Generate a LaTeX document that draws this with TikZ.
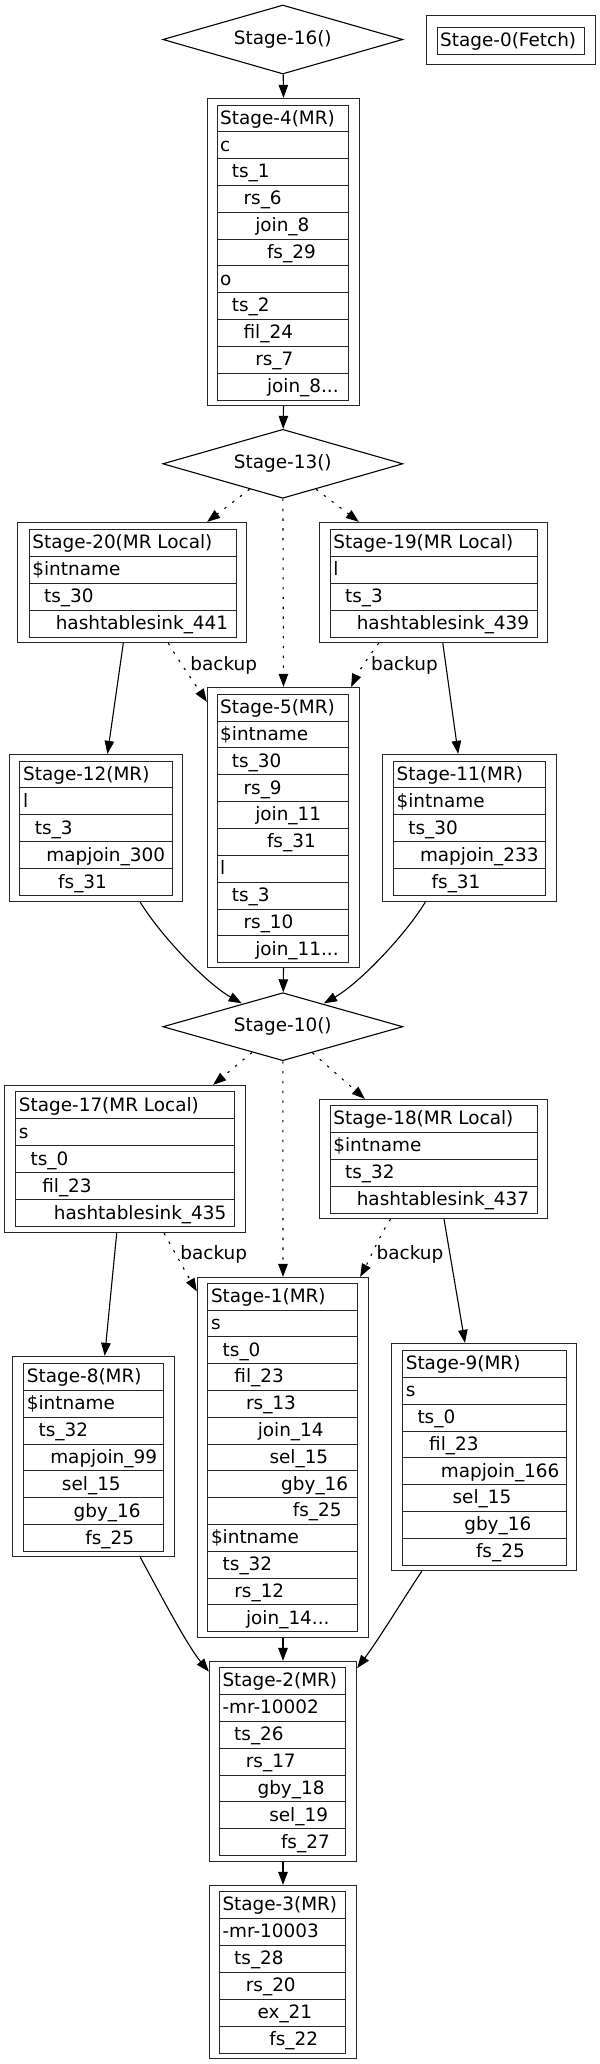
\documentclass[tikz,border=0pt]{standalone}
\usepackage{fontspec}
\setmainfont{DejaVu Sans}
\usetikzlibrary{shapes.geometric,arrows.meta,calc}
\tikzset{
  outerbox/.style={draw=black!85, line width=1.3bp, rectangle, inner sep=0pt},
  innerline/.style={draw=black!85, line width=1.3bp},
  rowtext/.style={anchor=base west, inner sep=0pt, font=\fontsize{18.49}{22}\selectfont},
  decision/.style={draw, diamond, shape aspect=3.5, line width=1.1bp, inner sep=0pt, minimum width=240bp, minimum height=69bp, font=\fontsize{18.49}{22}\selectfont},
  edge/.style={line width=1.1bp, -{Triangle[length=13bp,width=9.5bp]}},
  dotedge/.style={edge, dash pattern=on 2.4bp off 7.4bp},
  lbl/.style={anchor=base, inner sep=0pt, font=\fontsize{18.49}{22}\selectfont},
}
\newcommand{\stagebox}[5]{%
  \pgfmathsetmacro{\bxa}{floor(#2)+0.5}\pgfmathsetmacro{\bya}{floor(#3)+0.5}%
  \pgfmathsetmacro{\bxb}{floor(#4)+0.5}\pgfmathsetmacro{\byb}{floor(#5)+0.5}%
  \node[outerbox, minimum width={(\bxb-\bxa)*1bp}, minimum height={(\byb-\bya)*1bp}] (#1) at ({(\bxa+\bxb)/2},{(\bya+\byb)/2}) {};}
\newcommand{\stagerows}[7]{%
  \pgfmathsetmacro{\rxa}{floor(#2)+0.5}\pgfmathsetmacro{\rya}{floor(#3)+0.5}%
  \pgfmathsetmacro{\rxb}{floor(#4)+0.5}\pgfmathsetmacro{\ryb}{floor(#5)+0.5}%
  \draw[innerline] (\rxa,\rya) rectangle (\rxb,\ryb);
  \pgfmathsetmacro{\rowh}{(#5-#3)/#6}
  \foreach \lv/\tx [count=\i from 0] in {#7}{
    \ifnum\i>0 \pgfmathsetmacro{\ly}{floor(#3+\i*\rowh)+0.5}\draw[innerline] (\rxa,\ly) -- (\rxb,\ly); \fi
    \node[rowtext] (#1-r\i) at ({#2+3+11.7*\lv},{#3+\i*\rowh+\rowh/2+5.8}) {\tx};
  }
}
\begin{document}
\begin{tikzpicture}[x=1bp,y=-1bp]
\fill[white] (0,0) rectangle (600,2064);
\useasboundingbox (0,0) rectangle (600,2064);

% diamonds
\node[decision] (s16) at (282.8,39.5) {Stage-16()};
\node[decision] (s13) at (282.8,463.8) {Stage-13()};
\node[decision, minimum height=68bp] (s10) at (282.8,1026.7) {Stage-10()};

% Stage-0
\stagebox{s0}{426}{15}{595}{64}
\stagerows{s0}{437}{27}{584}{54}{1}{0/Stage-0(Fetch)}

% Stage-4
\stagebox{s4}{207}{98}{359}{405}
\stagerows{s4}{217}{105}{348}{400}{11}{0/Stage-4(MR), 0/c, 1/ts\_1, 2/rs\_6, 3/join\_8, 4/fs\_29, 0/o, 1/ts\_2, 2/fil\_24, 3/rs\_7, 4/join\_8{.}{.}{.}}

% Stage-20
\stagebox{s20}{17.5}{522.7}{246.5}{642.5}
\stagerows{s20}{29.2}{529}{236}{637}{4}{0/Stage-20(MR Local), 0/\$intname, 1/ts\_30, 2/hashtablesink\_441}

% Stage-19
\stagebox{s19}{319.5}{522.7}{547.5}{642.5}
\stagerows{s19}{330.2}{529}{537.6}{637}{4}{0/Stage-19(MR Local), 0/l, 1/ts\_3, 2/hashtablesink\_439}

% Stage-5
\stagebox{s5}{207}{687.5}{359}{967.7}
\stagerows{s5}{217}{694.3}{348.2}{962.7}{10}{0/Stage-5(MR), 0/\$intname, 1/ts\_30, 2/rs\_9, 3/join\_11, 4/fs\_31, 0/l, 1/ts\_3, 2/rs\_10, 3/join\_11{.}{.}{.}}

% Stage-12
\stagebox{s12}{9.2}{754.5}{182.5}{901}
\stagerows{s12}{19.9}{761}{172.2}{895.7}{5}{0/Stage-12(MR), 0/l, 1/ts\_3, 2/mapjoin\_300, 3/fs\_31}

% Stage-11
\stagebox{s11}{382.7}{754.5}{556}{901}
\stagerows{s11}{393.4}{761}{545.3}{895.7}{5}{0/Stage-11(MR), 0/\$intname, 1/ts\_30, 2/mapjoin\_233, 3/fs\_31}

% Stage-17
\stagebox{s17}{4.6}{1085}{245.3}{1232.3}
\stagerows{s17}{15.7}{1091.7}{234.6}{1226.7}{5}{0/Stage-17(MR Local), 0/s, 1/ts\_0, 2/fil\_23, 3/hashtablesink\_435}

% Stage-18
\stagebox{s18}{319.5}{1099}{547.2}{1218.3}
\stagerows{s18}{330.2}{1105}{537.6}{1213.3}{4}{0/Stage-18(MR Local), 0/\$intname, 1/ts\_32, 2/hashtablesink\_437}

% Stage-1
\stagebox{s1}{197}{1277.3}{368.4}{1637.3}
\stagerows{s1}{207.8}{1283.3}{357.6}{1631.7}{13}{0/Stage-1(MR), 0/s, 1/ts\_0, 2/fil\_23, 3/rs\_13, 4/join\_14, 5/sel\_15, 6/gby\_16, 7/fs\_25, 0/\$intname, 1/ts\_32, 2/rs\_12, 3/join\_14{.}{.}{.}}

% Stage-8
\stagebox{s8}{12.6}{1356.7}{174.1}{1556.7}
\stagerows{s8}{23.7}{1363.3}{163.8}{1551.7}{7}{0/Stage-8(MR), 0/\$intname, 1/ts\_32, 2/mapjoin\_99, 3/sel\_15, 4/gby\_16, 5/fs\_25}

% Stage-9
\stagebox{s9}{391.1}{1343.7}{576.7}{1570.7}
\stagerows{s9}{402.6}{1350.7}{566.3}{1565}{8}{0/Stage-9(MR), 0/s, 1/ts\_0, 2/fil\_23, 3/mapjoin\_166, 4/sel\_15, 5/gby\_16, 6/fs\_25}

% Stage-2
\stagebox{s2}{209}{1661}{356.6}{1861}
\stagerows{s2}{219.3}{1667.7}{345.6}{1855.7}{7}{0/Stage-2(MR), 0/-mr-10002, 1/ts\_26, 2/rs\_17, 3/gby\_18, 4/sel\_19, 5/fs\_27}

% Stage-3
\stagebox{s3}{209}{1885}{356.6}{2058.3}
\stagerows{s3}{219.3}{1891.7}{345.6}{2053.3}{6}{0/Stage-3(MR), 0/-mr-10003, 1/ts\_28, 2/rs\_20, 3/ex\_21, 4/fs\_22}

% labels
\node[lbl] (bk1) at (223.7,670) {backup};
\node[lbl] (bk2) at (404.5,670) {backup};
\node[lbl] (bk3) at (213.7,1259) {backup};
\node[lbl] (bk4) at (410,1259) {backup};

% edges
\draw[edge] (s16) -- (s4.north);
\draw[edge] (s4.south) -- (s13);
\draw[dotedge] (s13) -- ([xshift=-40bp]s20.north east);
\draw[dotedge] (s13) -- (s5.north);
\draw[dotedge] (s13) -- ([xshift=40bp]s19.north west);
\draw[edge] ([xshift=-8.7bp]s20.south) -- ([xshift=11.5bp]s12.north);
\draw[dotedge] ([xshift=36.3bp]s20.south) .. controls +(8,14) and +(-12,-18) .. ([yshift=-15bp]s5.north west);
\draw[dotedge] ([xshift=-54.7bp]s19.south) .. controls +(-9,12) and +(6,-13) .. ([xshift=-9bp]s5.north east);
\draw[edge] ([xshift=9.3bp]s19.south) -- ([xshift=-11.3bp]s11.north);
\draw[edge] ([xshift=44.2bp]s12.south) .. controls +(20.8,34) and +(-34.8,-19.6) .. ([xshift=-41.1bp,yshift=23.4bp]s10.center);
\draw[edge] ([xshift=-44.2bp]s11.south) .. controls +(-20.8,34) and +(34.8,-19.6) .. ([xshift=41.1bp,yshift=23.4bp]s10.center);
\draw[edge] (s5.south) -- (s10);
\draw[dotedge] (s10) -- ([xshift=-33bp]s17.north east);
\draw[dotedge] (s10) -- (s1.north);
\draw[dotedge] (s10) -- ([xshift=46bp]s18.north west);
\draw[edge] ([xshift=-8.3bp]s17.south) -- ([xshift=11.2bp]s8.north);
\draw[dotedge] ([xshift=39bp]s17.south) .. controls +(8,14) and +(-10,-17) .. ([yshift=-14.5bp]s1.north west);
\draw[dotedge] ([xshift=-43bp]s18.south) .. controls +(-8,11) and +(7,-13) .. ([xshift=-9bp]s1.north east);
\draw[edge] ([xshift=10.5bp]s18.south) -- ([xshift=-19bp]s9.north);
\draw[edge] ([xshift=46.7bp]s8.south) .. controls +(16.8,30.8) and +(-22.4,-27) .. ([yshift=-10.7bp]s2.north west);
\draw[edge] (s1.south) -- (s2.north);
\draw[edge] ([xshift=-62.2bp]s9.south) .. controls +(-19.2,29) and +(21,-28) .. ([yshift=-7.3bp]s2.north east);
\draw[edge] (s2.south) -- (s3.north);
\end{tikzpicture}
\end{document}
